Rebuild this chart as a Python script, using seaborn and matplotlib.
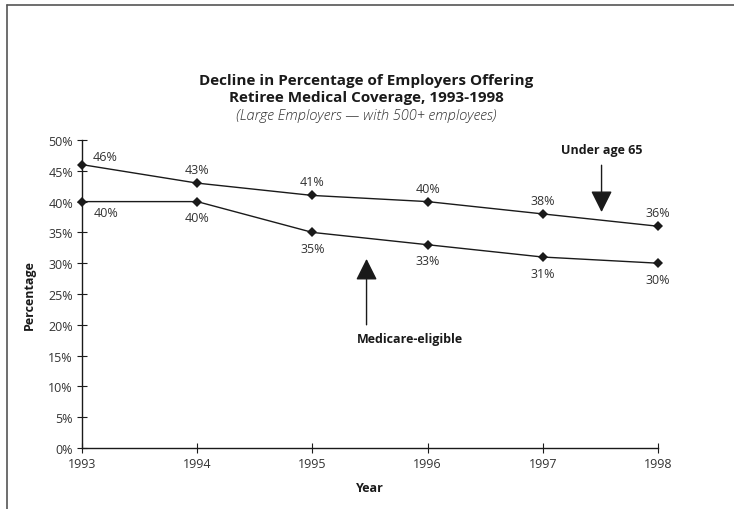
import matplotlib
matplotlib.use("Agg")
import matplotlib.pyplot as plt
from matplotlib.lines import Line2D
import pandas as pd
import seaborn as sns

years = [1993, 1994, 1995, 1996, 1997, 1998]
under_65 = [46, 43, 41, 40, 38, 36]
medicare_eligible = [40, 40, 35, 33, 31, 30]
series_names = ["Under age 65", "Medicare-eligible"]
y_ticks = [0, 5, 10, 15, 20, 25, 30, 35, 40, 45, 50]

sns.set_theme(style="white")
plt.rcParams["font.family"] = ["Open Sans", "DejaVu Sans"]

ink = "#1a1a1a"
grey_text = "#333333"

df = pd.DataFrame({
    "Year": years * 2,
    "Percentage": under_65 + medicare_eligible,
    "Series": [series_names[0]] * len(years) + [series_names[1]] * len(years),
})

fig = plt.figure(figsize=(7.34, 5.10), dpi=100)
ax = fig.add_axes([82 / 734, 61 / 510, 576 / 734, 308 / 510])

sns.lineplot(
    data=df, x="Year", y="Percentage", hue="Series", style="Series",
    palette=[ink, ink], markers=["D", "D"], dashes=False,
    markersize=5, linewidth=1.0, markeredgewidth=0, legend=False, ax=ax,
)

ax.set_xlim(years[0], years[-1])
ax.set_ylim(0, 50)
ax.set_xticks(years)
ax.set_xticklabels([str(y) for y in years])
ax.set_yticks(y_ticks)
ax.set_yticklabels([f"{t}%" for t in y_ticks])
ax.tick_params(axis="both", which="major", bottom=True, left=True,
               direction="inout", length=7, width=0.8,
               color=ink, labelsize=9, labelcolor=grey_text, pad=3)
for side in ("top", "right"):
    ax.spines[side].set_visible(False)
for side in ("left", "bottom"):
    ax.spines[side].set_color(ink)
    ax.spines[side].set_linewidth(1.0)
for ln in ax.lines:
    ln.set_clip_on(False)

ax.set_xlabel("Year", fontsize=9, fontweight="bold", color=ink, labelpad=8)
ax.set_ylabel("Percentage", fontsize=9, fontweight="bold", color=ink, labelpad=9)

# value labels: upper series above, lower series below
for i, (yr, v) in enumerate(zip(years, under_65)):
    off = (17, 1) if i == 0 else (0, 5)
    ax.annotate(f"{v}%", (yr, v), xytext=off, textcoords="offset points",
                ha="center", va="bottom", fontsize=9, color=grey_text)
for i, (yr, v) in enumerate(zip(years, medicare_eligible)):
    off = (17, -3) if i == 0 else (0, -7)
    ax.annotate(f"{v}%", (yr, v), xytext=off, textcoords="offset points",
                ha="center", va="top", fontsize=9, color=grey_text)

# callout arrows naming each series
arrow_style = dict(arrowstyle="-|>,head_length=1.1,head_width=0.55",
                   color=ink, lw=1.0, shrinkA=0, shrinkB=0)
ax.annotate("", xy=(1997.51, 38.3), xytext=(1997.51, 45.9), arrowprops=arrow_style)
ax.text(1997.51, 48.5, series_names[0], ha="center", va="center",
        fontsize=9, fontweight="bold", color=ink)
ax.annotate("", xy=(1995.47, 30.7), xytext=(1995.47, 20.0), arrowprops=arrow_style)
ax.text(1995.85, 17.7, series_names[1], ha="center", va="center",
        fontsize=9, fontweight="bold", color=ink)

# titles
fig.text(366 / 734, 1 - 81 / 510, "Decline in Percentage of Employers Offering",
         ha="center", va="center", fontsize=11, fontweight="bold", color=ink)
fig.text(366 / 734, 1 - 98 / 510, "Retiree Medical Coverage, 1993-1998",
         ha="center", va="center", fontsize=11, fontweight="bold", color=ink)
fig.text(366 / 734, 1 - 116 / 510, "(Large Employers \u2014 with 500+ employees)",
         ha="center", va="center", fontsize=10.5, fontstyle="italic",
         fontweight="light", color=grey_text)

# frame around the chart panel
fig.add_artist(Line2D([7 / 734, 7 / 734], [0, 1 - 6 / 510], transform=fig.transFigure,
                      color="#555555", lw=1.2))
fig.add_artist(Line2D([7 / 734, 1], [1 - 6 / 510, 1 - 6 / 510], transform=fig.transFigure,
                      color="#555555", lw=1.2))

fig.savefig("out.png", dpi=100, facecolor="white")
